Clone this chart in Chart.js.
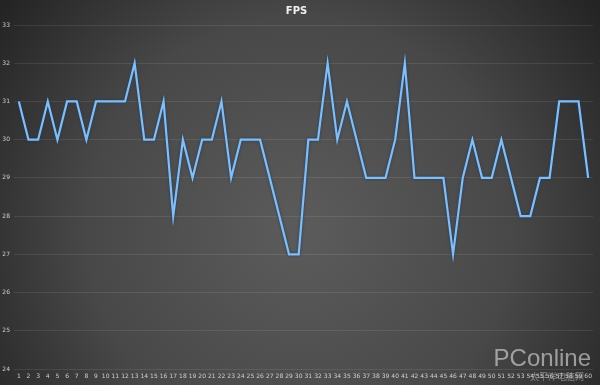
<!DOCTYPE html>
<html>
<head>
<meta charset="utf-8">
<script src="https://cdn.jsdelivr.net/npm/chart.js@4"></script>
<style>
  html, body { margin: 0; padding: 0; background: #2a2a2a; }
  #wrap { width: 600px; height: 385px; }
</style>
</head>
<body>
<div id="wrap"><canvas id="fps-chart"></canvas></div>
<script>
// FPS samples, 60 frames
const labels = Array.from({ length: 60 }, (_, i) => String(i + 1));
const fps = [
  31, 30, 30, 31, 30, 31, 31, 30, 31, 31,
  31, 31, 32, 30, 30, 31, 28, 30, 29, 30,
  30, 31, 29, 30, 30, 30, 29, 28, 27, 27,
  30, 30, 32, 30, 31, 30, 29, 29, 29, 30,
  32, 29, 29, 29, 29, 27, 29, 30, 29, 29,
  30, 29, 28, 28, 29, 29, 31, 31, 31, 29
];
const yMin = 24;
const yMax = 33;

// dark radial background + watermark
const backdrop = {
  id: 'backdrop',
  beforeDraw(chart) {
    const { ctx, width, height } = chart;
    const g = ctx.createRadialGradient(width * 0.5, height * 0.6, 20, width * 0.5, height * 0.6, width * 0.62);
    g.addColorStop(0, '#5a5a5a');
    g.addColorStop(0.55, '#484848');
    g.addColorStop(1, '#242424');
    ctx.save();
    ctx.fillStyle = g;
    ctx.fillRect(0, 0, width, height);
    ctx.restore();
  },
  afterDraw(chart) {
    const { ctx } = chart;
    ctx.save();
    ctx.fillStyle = 'rgba(225,225,225,0.6)';
    ctx.font = '24px "Liberation Sans", Arial, sans-serif';
    ctx.textAlign = 'right';
    ctx.textBaseline = 'alphabetic';
    ctx.fillText('PConline', 591, 366);
    ctx.font = '9px "Noto Sans CJK SC", sans-serif';
    ctx.fillStyle = 'rgba(225,225,225,0.45)';
    ctx.fillText('太平洋电脑网', 584, 380);
    ctx.restore();
  }
};

// soft dark-blue outline around the line
const lineGlow = {
  id: 'lineGlow',
  beforeDatasetDraw(chart) {
    const ctx = chart.ctx;
    ctx.save();
    ctx.shadowColor = 'rgba(20,60,110,0.95)';
    ctx.shadowBlur = 3;
  },
  afterDatasetDraw(chart) {
    chart.ctx.restore();
  }
};

new Chart(document.getElementById('fps-chart'), {
  type: 'line',
  data: {
    labels: labels,
    datasets: [{
      label: 'FPS',
      data: fps,
      borderColor: '#86bdf0',
      borderWidth: 2.2,
      pointRadius: 0,
      tension: 0,
      fill: false
    }]
  },
  options: {
    responsive: true,
    maintainAspectRatio: false,
    animation: false,
    layout: { padding: { left: 0, right: 7, top: 0, bottom: 0 } },
    plugins: {
      legend: { display: false },
      tooltip: { enabled: false },
      title: {
        display: true,
        text: 'FPS',
        color: '#f0f0f0',
        font: { size: 10, weight: 'bold', family: '"DejaVu Sans", sans-serif' },
        padding: { top: 5, bottom: 8 }
      }
    },
    scales: {
      x: {
        offset: true,
        grid: { display: false, drawTicks: false },
        border: { display: false },
        ticks: {
          color: '#cfcfcf',
          font: { size: 6, family: '"DejaVu Sans", sans-serif' },
          maxRotation: 0,
          autoSkip: false,
          padding: 4
        },
        afterFit(scale) { scale.height = 16; }
      },
      y: {
        min: yMin,
        max: yMax,
        grid: { color: 'rgba(255,255,255,0.09)', lineWidth: 1, drawTicks: false },
        border: { display: false },
        ticks: {
          stepSize: 1,
          color: '#cfcfcf',
          font: { size: 6, family: '"DejaVu Sans", sans-serif' },
          padding: 4
        },
        afterFit(scale) { scale.width = 14; }
      }
    }
  },
  plugins: [backdrop, lineGlow]
});
</script>
</body>
</html>
